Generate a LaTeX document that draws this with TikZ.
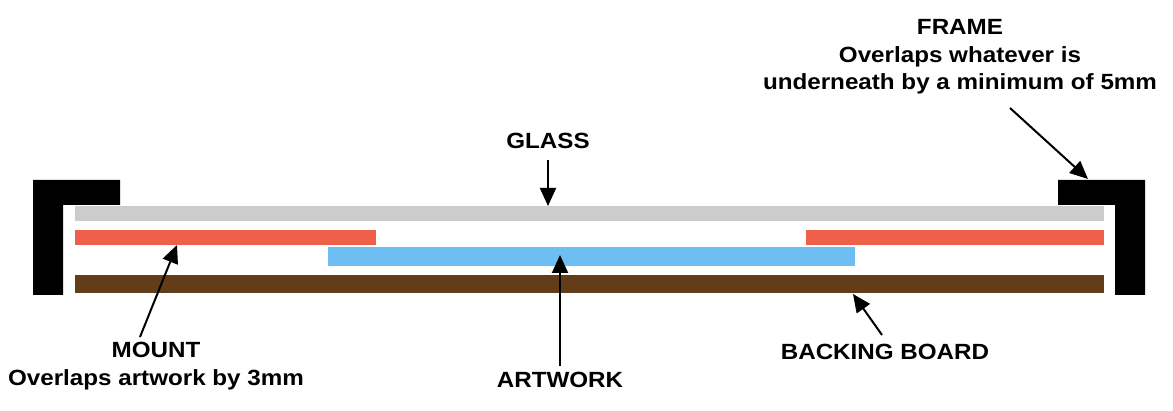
\documentclass[tikz,border=0pt]{standalone}
\usepackage{fontspec}
\setmainfont{Liberation Sans}
\usetikzlibrary{arrows.meta}
\definecolor{glass}{HTML}{CCCCCC}
\definecolor{mount}{HTML}{EF604B}
\definecolor{art}{HTML}{6FBEF3}
\definecolor{back}{HTML}{633C1A}
\tikzset{lbl/.style={font=\bfseries\fontsize{22}{27.5}\selectfont,inner sep=1pt,align=center},
arr/.style={-{Triangle[length=18pt,width=16pt]},line width=2pt}}
\begin{document}
\begin{tikzpicture}[x=1pt,y=-1pt]
\useasboundingbox (0,0) rectangle (1173,411);
\fill[black] (33,180) -- (120,180) -- (120,205) -- (63,205) -- (63,295) -- (33,295) -- cycle;
\fill[black] (1145,180) -- (1058,180) -- (1058,205) -- (1115,205) -- (1115,295) -- (1145,295) -- cycle;
\fill[glass] (75,206) rectangle (1104,221);
\fill[mount] (75,230) rectangle (376,245);
\fill[mount] (806,230) rectangle (1104,245);
\fill[art] (328,247) rectangle (855,266);
\fill[back] (75,275) rectangle (1104,293);
\coordinate (glasstail) at (548,160);
\coordinate (glasstop) at (548,206);
\coordinate (mounttip) at (177,245);
\coordinate (arttail) at (560,366);
\coordinate (arttip) at (560,255);
\coordinate (backtip) at (853,294);
\coordinate (frametip) at (1088,179);
\node[lbl,xscale=1.1] (glass) at (548,141) {GLASS};
\node[lbl,xscale=1.1] (frame) at (960,57) {FRAME\\Overlaps whatever is\\underneath by a minimum of 5mm};
\node[lbl,xscale=1.1] (mount) at (156,366) {MOUNT\\Overlaps artwork by 3mm};
\node[lbl,xscale=1.1] (artwork) at (560,380) {ARTWORK};
\node[lbl,xscale=1.1] (backing) at (885,352) {BACKING BOARD};
\draw[arr] (glasstail) -- (glasstop);
\draw[arr] (1010,108) -- (frametip);
\draw[arr] (140,337) -- (mounttip);
\draw[arr] (arttail) -- (arttip);
\draw[arr] (882,335) -- (backtip);
\end{tikzpicture}
\end{document}
